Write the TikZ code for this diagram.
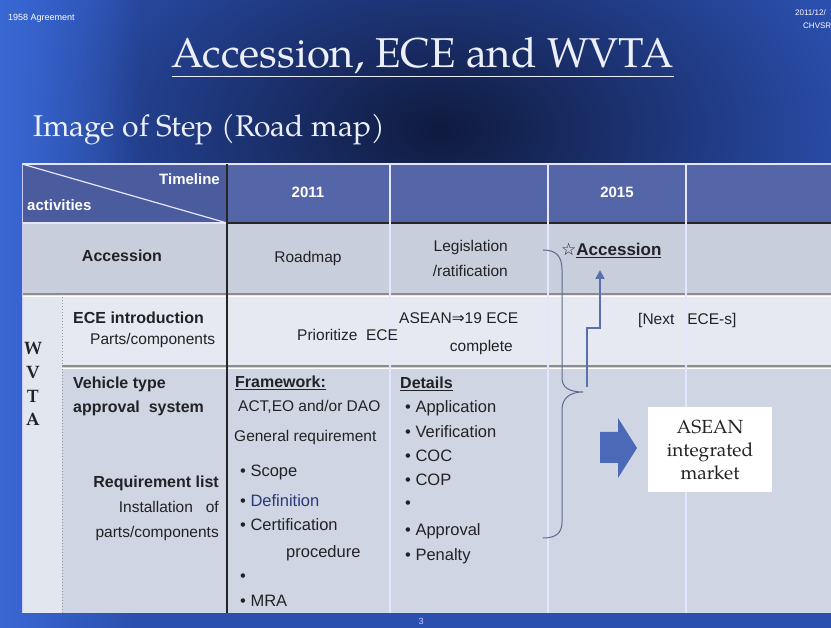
\documentclass[tikz,border=0pt]{standalone}
\usepackage{fontspec}
\newfontfamily\sansf{Liberation Sans}
\newfontfamily\djv{DejaVu Sans}
\newfontfamily\serf{TeX Gyre Pagella}
\usetikzlibrary{arrows.meta,fadings}
\definecolor{bgbase}{HTML}{2B4FAE}
\definecolor{bgdark}{HTML}{0F1A3E}
\definecolor{bgleft}{HTML}{3A68D4}
\definecolor{hdr}{HTML}{5566A8}
\definecolor{hdrA}{HTML}{4A5C9E}
\definecolor{rowA}{HTML}{C8CEDC}
\definecolor{rowB}{HTML}{E6E9F1}
\definecolor{rowC}{HTML}{CFD5E2}
\definecolor{colW}{HTML}{E2E6EE}
\definecolor{txtc}{HTML}{222226}
\definecolor{bracec}{HTML}{5C6A90}
\definecolor{arrc}{HTML}{5A70AC}
\definecolor{blockc}{HTML}{4C69B8}
\definecolor{titlec}{HTML}{ECEFF8}
\begin{document}
\begin{tikzpicture}[x=1pt,y=-1pt,
  tx/.style={font=\sansf\fontsize{15.5}{15.5}\selectfont, text=txtc, inner sep=0pt},
  tb/.style={font=\sansf\bfseries\fontsize{16}{16}\selectfont, text=txtc, inner sep=0pt},
  th/.style={font=\sansf\bfseries\fontsize{15}{15}\selectfont, text=white, inner sep=0pt},
  wv/.style={font=\serf\bfseries\fontsize{18}{18}\selectfont, text=txtc, inner sep=0pt, anchor=base},
  gridw/.style={draw=white!90!blue, line width=1.2pt},
  gridd/.style={draw=black!85, line width=1.2pt},
  gridh/.style={draw=black!45, line width=1.4pt},
  bul/.style={font=\sansf\fontsize{16.5}{16.5}\selectfont, text=txtc, inner sep=0pt, anchor=base west}]
\useasboundingbox (0,0) rectangle (831,628);
% background
\fill[bgbase] (0,0) rectangle (831,628);
\shade[inner color=bgdark, outer color=bgbase] (440,130) ellipse (430 and 260);
\fill[bgleft, path fading=east] (0,0) rectangle (140,628);
% header texts
\node[font=\sansf\fontsize{9}{9}\selectfont, text=white, anchor=base west, inner sep=0pt] (agr) at (8,21) {1958 Agreement};
\node[font=\sansf\fontsize{8}{8}\selectfont, text=white, anchor=base west, inner sep=0pt] (date) at (795,16) {2011/12/};
\node[font=\sansf\fontsize{8}{8}\selectfont, text=white, anchor=base west, inner sep=0pt] (chv) at (803,29) {CHVSR};
\node[font=\serf\fontsize{41.7}{41.7}\selectfont, text=titlec, anchor=base, inner sep=0pt] (title) at (423,68) {\underline{Accession, ECE and WVTA}};
\node[font=\serf\fontsize{30}{30}\selectfont, text=titlec, anchor=base west, inner sep=0pt] (sub) at (33,137) {Image of Step (Road map)};
% table fills
\fill[hdr] (22,164) rectangle (831,223);
\fill[hdrA] (22,164) rectangle (227,223);
\fill[rowA] (22,223) rectangle (831,294);
\fill[rowB] (22,294) rectangle (831,366);
\fill[rowC] (22,366) rectangle (831,613);
\fill[colW] (22,294) rectangle (62,613);
% grid
\draw[gridw] (22,164) -- (831,164);
\draw[gridw] (22,164) -- (227,223);
\draw[gridw] (22,223) -- (227,223);
\draw[gridd] (227,223) -- (831,223);
\draw[gridh] (22,294) -- (831,294);
\draw[gridh] (62,366) -- (831,366);
\draw[draw=white, line width=0.8pt] (22,296) -- (831,296);
\draw[draw=white, line width=0.8pt] (62,368) -- (831,368);
\draw[gridw] (390,164) -- (390,613);
\draw[gridw] (548,164) -- (548,613);
\draw[gridw] (686,164) -- (686,613);
\draw[gridd] (227,164) -- (227,613);
\draw[draw=black!40, dotted, line width=1pt] (62,294) -- (62,613);
\draw[draw=white!80!blue, line width=1pt] (22,164) -- (22,613);
% header row
\node[th, anchor=base east] (tl) at (220,185) {Timeline};
\node[th, anchor=base west] (act) at (27,211) {activities};
\node[th, anchor=base] (y11) at (308,198) {2011};
\node[th, anchor=base] (y15) at (617,198) {2015};
% accession row
\node[tb, anchor=base] (acch) at (122,262) {Accession};
\node[tx, anchor=base] (road) at (308,263) {Roadmap};
\node[tx, anchor=base east] (leg) at (508,252) {Legislation};
\node[tx, anchor=base east] (rat) at (508,277) {/ratification};
\node[tb, anchor=base west, font=\sansf\bfseries\fontsize{17}{17}\selectfont] (acc) at (561,256) {{\djv\bfseries\fontsize{17}{17}\selectfont ☆}\underline{Accession}};
% ECE row
\node[tb, anchor=base west] (ece) at (73,324) {ECE introduction};
\node[tx, anchor=base west] (parts) at (90,345) {Parts/components};
\node[tx, anchor=base west] (prio) at (297,341) {Prioritize\ \ ECE};
\node[tx, anchor=base west] (asean19) at (399,324) {ASEAN{\djv ⇒}19 ECE};
\node[tx, anchor=base east] (compl) at (513,352) {complete};
\node[tx, anchor=base west] (next) at (638,325) {[Next\ \ \ ECE-s]};
% WVTA
\node[wv] (w1) at (33,355) {W};
\node[wv] (w2) at (33,379) {V};
\node[wv] (w3) at (33,403) {T};
\node[wv] (w4) at (33,426) {A};
% vehicle row
\node[tb, anchor=base west] (veh) at (73,389) {Vehicle type};
\node[tb, anchor=base west] (appr) at (73,413) {approval\ \ system};
\node[tb, anchor=base east] (req) at (219,488) {Requirement list};
\node[tx, anchor=base east] (inst) at (219,513) {Installation\ \ \ of};
\node[tx, anchor=base east] (pc) at (219,538) {parts/components};
\node[tb, anchor=base west] (fw) at (235,388) {\underline{Framework:}};
\node[tx, anchor=base west] (actd) at (238,412) {ACT,EO and/or DAO};
\node[tx, anchor=base west] (gen) at (234,442) {General requirement};
\node[bul] (b1) at (240,477) {•\ Scope};
\node[bul] (b2) at (240,507) {•\ \textcolor[HTML]{2A3A78}{Definition}};
\node[bul] (b3) at (240,531) {•\ Certification};
\node[bul] (b4) at (286,558) {procedure};
\node[bul] (b5) at (240,581) {•};
\node[bul] (b6) at (240,606) {•\ MRA};
\node[tb, anchor=base west] (det) at (400,389) {\underline{Details}};
\node[bul] (d1) at (405,413) {•\ Application};
\node[bul] (d2) at (405,438) {•\ Verification};
\node[bul] (d3) at (405,462) {•\ COC};
\node[bul] (d4) at (405,486) {•\ COP};
\node[bul] (d5) at (405,509) {•};
\node[bul] (d6) at (405,536) {•\ Approval};
\node[bul] (d7) at (405,561) {•\ Penalty};
% brace
\draw[bracec, line width=1pt] (543,250) .. controls (556,250) and (562,256) .. (562,270) -- (562,378) .. controls (562,388) and (570,392) .. (583,392) .. controls (570,392) and (562,398) .. (562,410) -- (562,522) .. controls (562,533) and (556,538) .. (543,538);
% bent arrow
\coordinate (bs) at (587,387);
\coordinate (be) at (600,270);
\draw[arrc, line width=2pt, -{Triangle[length=9pt,width=9pt]}] (bs) -- (587,328) -- (600,328) -- (be);
% block arrow
\fill[blockc] (600,432) -- (618,432) -- (618,418) -- (637,448) -- (618,478) -- (618,463) -- (600,463) -- cycle;
% market box
\node[fill=white, minimum width=124pt, minimum height=85pt, align=center, font=\serf\fontsize{19}{23}\selectfont, text=txtc, inner sep=0pt] (mkt) at (710,450) {ASEAN\\integrated\\market};
% bottom
\node[font=\sansf\fontsize{9}{9}\selectfont, text=white!80!blue, anchor=base, inner sep=0pt] (pg) at (421,624) {3};
\end{tikzpicture}
\end{document}
